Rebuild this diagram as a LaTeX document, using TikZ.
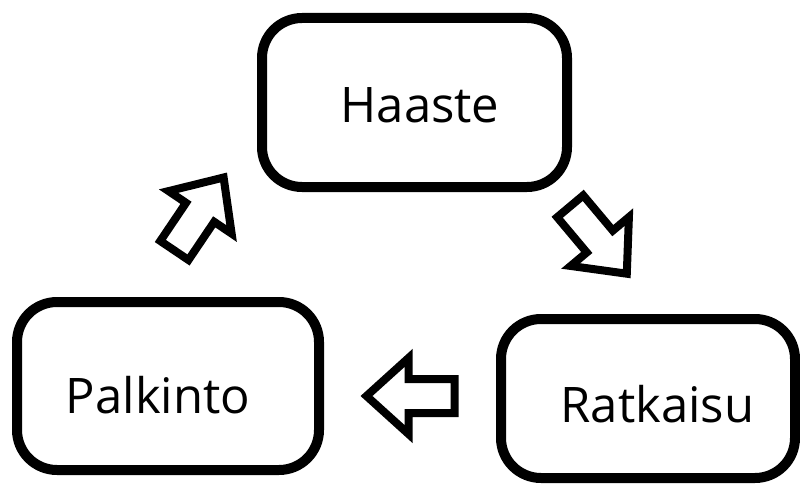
\documentclass[tikz,border=0pt]{standalone}
\usepackage{fontspec}
\setmainfont{Open Sans}
\begin{document}
\begin{tikzpicture}[x=1pt,y=-1pt,
  stage/.style={draw=black, line width=10pt, rounded corners=40pt, fill=white, inner sep=0pt},
  caption/.style={font=\fontsize{49}{56}\selectfont, anchor=base, inner sep=0pt, text=black},
  pics/blockarrow/.style={code={
    \draw[line width=8pt, line join=miter, fill=white]
      (-44,-17) -- (2,-17) -- (2,-38) -- (44,0) -- (2,38) -- (2,17) -- (-44,17) -- cycle;}}]
\useasboundingbox (0,0) rectangle (800,484);

% the three stages of the cycle
\node[stage, minimum width=305pt, minimum height=169pt] (haaste) at (414.5,102.5) {};
\node[stage, minimum width=302pt, minimum height=168pt] (palkinto) at (168,386) {};
\node[stage, minimum width=294pt, minimum height=159pt] (ratkaisu) at (648,398.5) {};

\node[caption] (thaaste) at (420,123) {Haaste};
\node[caption] (tpalkinto) at (158,413) {Palkinto};
\node[caption] (tratkaisu) at (657.5,422) {Ratkaisu};

% hollow block arrows running round the cycle
\pic[rotate=-50] at (598.5,240) {blockarrow};
\pic[rotate=180] at (410.5,396) {blockarrow};
\pic[rotate=56] at (199,214) {blockarrow};
\end{tikzpicture}
\end{document}
